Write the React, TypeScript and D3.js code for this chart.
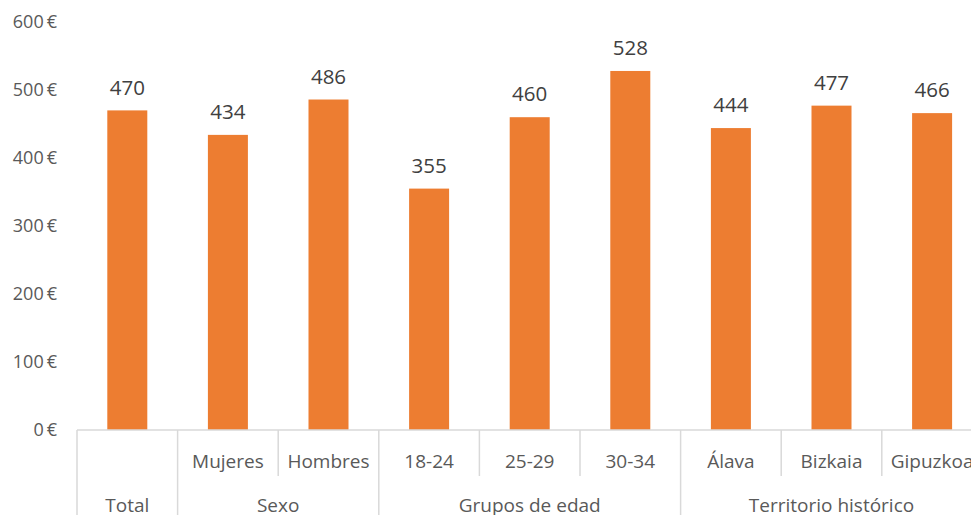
import React from "react";
import * as d3 from "d3";

const categories = ["Total", "Mujeres", "Hombres", "18-24", "25-29", "30-34", "Álava", "Bizkaia", "Gipuzkoa"];
const values = [470, 434, 486, 355, 460, 528, 444, 477, 466];
const groups = [
  { name: "Total", start: 0, end: 1, sub: false },
  { name: "Sexo", start: 1, end: 3, sub: true },
  { name: "Grupos de edad", start: 3, end: 6, sub: true },
  { name: "Territorio histórico", start: 6, end: 9, sub: true },
];
const yTicks = [0, 100, 200, 300, 400, 500, 600];

const W = 971;
const H = 515;
const FONT = "'Open Sans', 'Noto Sans', sans-serif";

export default function App() {
  const left = 77;
  const bandW = 100.6;
  const x = d3
    .scaleBand<string>()
    .domain(categories)
    .range([left, left + bandW * categories.length])
    .paddingInner(0)
    .paddingOuter(0);
  const y = d3.scaleLinear().domain([0, 600]).range([430, 22]);
  const barW = 40;
  const y0 = y(0);
  const gridC = "#d9d9d9";

  return (
    <svg width={W} height={H} style={{ position: "absolute", left: 0, top: 0, background: "#fff" }}>
      {yTicks.map((t) => (
        <text key={t} x={57} y={y(t)} dy="0.35em" textAnchor="end" fontFamily={FONT} fontSize={18} fill="#595959">
          {t}{"\u2009"}€
        </text>
      ))}
      {categories.map((c, i) => {
        const cx = (x(c) as number) + x.bandwidth() / 2;
        return (
          <g key={c}>
            <rect x={cx - barW / 2} y={y(values[i])} width={barW} height={y0 - y(values[i])} fill="#ED7D31" />
            <text x={cx} y={y(values[i]) - 23} dy="0.35em" textAnchor="middle" fontFamily={FONT} fontSize={20.5} fill="#404040">
              {values[i]}
            </text>
          </g>
        );
      })}
      <line x1={left} x2={W} y1={y0} y2={y0} stroke={gridC} strokeWidth={1.5} />
      {groups.map((g) => (
        <line key={"gs" + g.name} x1={x(categories[g.start]) as number} x2={x(categories[g.start]) as number} y1={y0} y2={H} stroke={gridC} strokeWidth={1.5} />
      ))}
      {groups.flatMap((g) =>
        g.sub
          ? d3.range(g.start + 1, g.end).map((k) => (
              <line key={"ss" + k} x1={x(categories[k]) as number} x2={x(categories[k]) as number} y1={y0} y2={476} stroke={gridC} strokeWidth={1.5} />
            ))
          : []
      )}
      {groups.flatMap((g) =>
        g.sub
          ? d3.range(g.start, g.end).map((k) => (
              <text key={"sl" + k} x={(x(categories[k]) as number) + x.bandwidth() / 2} y={461} dy="0.35em" textAnchor="middle" fontFamily={FONT} fontSize={19} fill="#595959">
                {categories[k]}
              </text>
            ))
          : []
      )}
      {groups.map((g) => {
        const gx0 = x(categories[g.start]) as number;
        const gx1 = (x(categories[g.end - 1]) as number) + x.bandwidth();
        return (
          <text key={"gl" + g.name} x={(gx0 + gx1) / 2} y={505} dy="0.35em" textAnchor="middle" fontFamily={FONT} fontSize={19} fill="#595959">
            {g.name}
          </text>
        );
      })}
    </svg>
  );
}
